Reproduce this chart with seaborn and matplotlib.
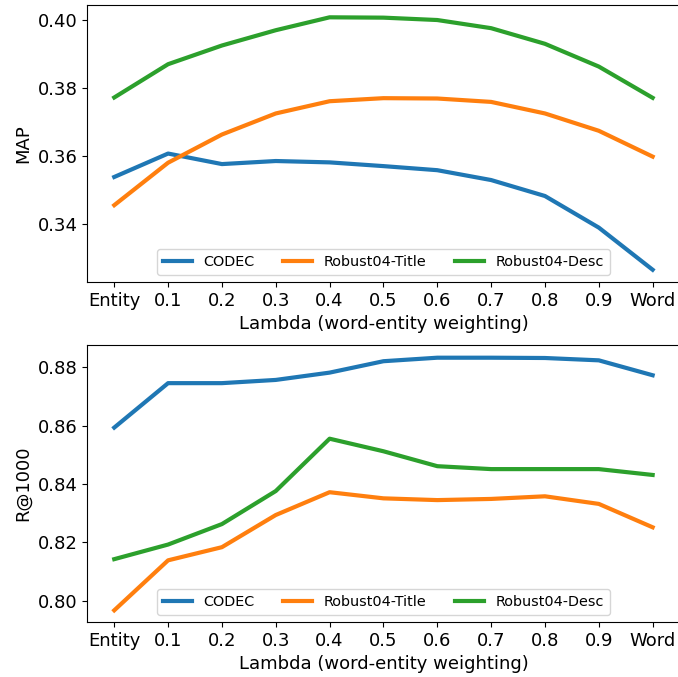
import pandas as pd
import matplotlib
matplotlib.use("Agg")
import matplotlib.pyplot as plt
import seaborn as sns

# x positions (lambda values)
lambdas = ["Entity", "0.1", "0.2", "0.3", "0.4", "0.5", "0.6", "0.7", "0.8", "0.9", "Word"]
series = ["CODEC", "Robust04-Title", "Robust04-Desc"]

# MAP values
map_codec = [0.3538, 0.3607, 0.3576, 0.3585, 0.3581, 0.3570, 0.3558, 0.3529, 0.3482, 0.3389, 0.3265]
map_title = [0.3455, 0.3580, 0.3663, 0.3725, 0.3761, 0.3770, 0.3769, 0.3759, 0.3725, 0.3674, 0.3598]
map_desc = [0.3772, 0.3870, 0.3925, 0.3970, 0.4008, 0.4007, 0.4000, 0.3976, 0.3930, 0.3863, 0.3771]

# R@1000 values
rec_codec = [0.8593, 0.8745, 0.8745, 0.8756, 0.8781, 0.8820, 0.8832, 0.8832, 0.8831, 0.8823, 0.8772]
rec_title = [0.7968, 0.8139, 0.8184, 0.8294, 0.8372, 0.8351, 0.8345, 0.8349, 0.8358, 0.8332, 0.8252]
rec_desc = [0.8143, 0.8193, 0.8263, 0.8376, 0.8555, 0.8512, 0.8461, 0.8451, 0.8451, 0.8451, 0.8431]


def long_df(a, b, c):
    rows = []
    for name, vals in zip(series, [a, b, c]):
        for lam, v in zip(lambdas, vals):
            rows.append({"Lambda": lam, "value": v, "Method": name})
    return pd.DataFrame(rows)


df_map = long_df(map_codec, map_title, map_desc)
df_rec = long_df(rec_codec, rec_title, rec_desc)

fig = plt.figure(figsize=(6.78, 6.77), dpi=100)
ax1 = fig.add_axes([0.1288, 0.5835, 0.8735, 0.409])
ax2 = fig.add_axes([0.1288, 0.0812, 0.8735, 0.409])

palette = ["#1f77b4", "#ff7f0e", "#2ca02c"]

for ax, df, ylabel, ylim, yticks in [
    (ax1, df_map, "MAP", (0.3229, 0.4044), [0.34, 0.36, 0.38, 0.40]),
    (ax2, df_rec, "R@1000", (0.7928, 0.8875), [0.80, 0.82, 0.84, 0.86, 0.88]),
]:
    sns.lineplot(data=df, x="Lambda", y="value", hue="Method", palette=palette,
                 linewidth=3, ax=ax, sort=False)
    ax.set_ylim(*ylim)
    ax.set_yticks(yticks)
    ax.set_yticklabels([f"{t:.2f}" for t in yticks])
    ax.set_xlabel("Lambda (word-entity weighting)", fontsize=13)
    ax.set_ylabel(ylabel, fontsize=13)
    ax.tick_params(labelsize=13)
    ax.legend(loc="lower center", ncol=3, fontsize=10.4)

fig.savefig("out.png", dpi=100)
plt.close()
